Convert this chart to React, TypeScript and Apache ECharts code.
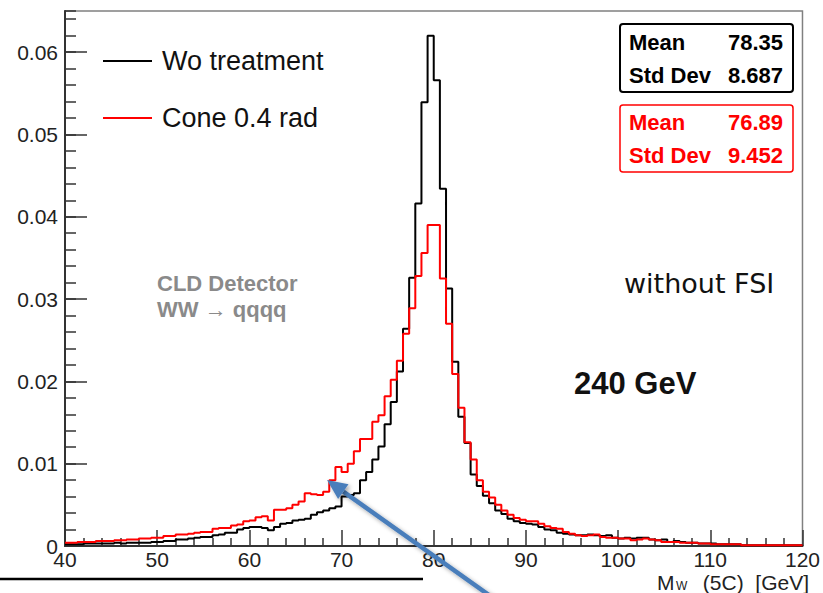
import React, { useEffect, useRef } from "react";
import * as echarts from "echarts";

// Histogram binning: 120 bins from 40 to 120 GeV
const BIN_LOW = 40;
const BIN_HIGH = 120;

const SERIES_NAMES = ["Wo treatment", "Cone 0.4 rad"];

// Normalised M_W (5C) distribution, no treatment
const woTreatment = [
  0.0002, 0.0002, 0.0002, 0.0003, 0.0003, 0.0003, 0.0003, 0.0003, 0.0004, 0.0003,
  0.0004, 0.0004, 0.0004, 0.0004, 0.0005, 0.0005, 0.0006, 0.0006, 0.0008, 0.0008,
  0.0009, 0.0010, 0.0011, 0.0011, 0.0013, 0.0014, 0.0016, 0.0016, 0.0020, 0.0022,
  0.0023, 0.0023, 0.0022, 0.0019, 0.0023, 0.0027, 0.0028, 0.0031, 0.0032, 0.0033,
  0.0038, 0.0041, 0.0043, 0.0046, 0.0048, 0.0060, 0.0062, 0.0064, 0.0080, 0.0090,
  0.0105, 0.0121, 0.0148, 0.0175, 0.0212, 0.0264, 0.0326, 0.0416, 0.0539, 0.0620,
  0.0566, 0.0434, 0.0313, 0.0224, 0.0157, 0.0125, 0.0087, 0.0073, 0.0061, 0.0052,
  0.0043, 0.0039, 0.0033, 0.0030, 0.0028, 0.0027, 0.0026, 0.0023, 0.0020, 0.0019,
  0.0016, 0.0015, 0.0014, 0.0013, 0.0013, 0.0014, 0.0013, 0.0012, 0.0013, 0.0010,
  0.0009, 0.0010, 0.0009, 0.0010, 0.0010, 0.0008, 0.0007, 0.0008, 0.0005, 0.0006,
  0.0005, 0.0004, 0.0004, 0.0003, 0.0003, 0.0003, 0.0002, 0.0002, 0.0002, 0.0002,
  0.0001, 0.0001, 0.0001, 0.0001, 0.0001, 0.0001, 0.0001, 0.0001, 0.0001, 0.0001,
];

// Normalised M_W (5C) distribution, cone of 0.4 rad
const cone04 = [
  0.0004, 0.0004, 0.0005, 0.0005, 0.0005, 0.0006, 0.0006, 0.0006, 0.0007, 0.0007,
  0.0008, 0.0008, 0.0009, 0.0009, 0.0010, 0.0010, 0.0012, 0.0012, 0.0014, 0.0014,
  0.0015, 0.0016, 0.0017, 0.0017, 0.0021, 0.0022, 0.0022, 0.0025, 0.0026, 0.0030,
  0.0031, 0.0035, 0.0036, 0.0031, 0.0044, 0.0044, 0.0046, 0.0050, 0.0054, 0.0064,
  0.0063, 0.0062, 0.0066, 0.0080, 0.0096, 0.0090, 0.0100, 0.0115, 0.0130, 0.0130,
  0.0151, 0.0159, 0.0182, 0.0202, 0.0225, 0.0258, 0.0289, 0.0328, 0.0356, 0.0390,
  0.0390, 0.0325, 0.0270, 0.0209, 0.0168, 0.0126, 0.0105, 0.0080, 0.0066, 0.0059,
  0.0050, 0.0043, 0.0038, 0.0034, 0.0032, 0.0030, 0.0030, 0.0027, 0.0024, 0.0022,
  0.0021, 0.0017, 0.0015, 0.0013, 0.0012, 0.0013, 0.0014, 0.0011, 0.0010, 0.0010,
  0.0009, 0.0009, 0.0007, 0.0008, 0.0009, 0.0008, 0.0007, 0.0005, 0.0005, 0.0005,
  0.0004, 0.0004, 0.0004, 0.0003, 0.0003, 0.0002, 0.0002, 0.0002, 0.0002, 0.0002,
  0.0001, 0.0001, 0.0001, 0.0001, 0.0001, 0.0001, 0.0001, 0.0001, 0.0001, 0.0001,
];

// Statistics boxes
const statsWo = { mean: "78.35", std: "8.687" };
const statsCone = { mean: "76.89", std: "9.452" };

const FONT = "'Liberation Sans', Arial, Helvetica, sans-serif";

// Turn bin contents into step-line points at the bin lower edges
function stepData(values: number[]): number[][] {
  const w = (BIN_HIGH - BIN_LOW) / values.length;
  const pts = values.map((v, i) => [BIN_LOW + i * w, v]);
  pts.push([BIN_HIGH, values[values.length - 1]]);
  return pts;
}

function txt(
  text: string,
  x: number,
  y: number,
  size: number,
  color: string,
  opts: { bold?: boolean; align?: string; family?: string } = {}
) {
  return {
    type: "text",
    x,
    y,
    z: 60,
    style: {
      text,
      fill: color,
      fontSize: size,
      fontFamily: opts.family || FONT,
      fontWeight: opts.bold ? "bold" : "normal",
      align: opts.align || "left",
      verticalAlign: "middle",
    },
  };
}

export default function App() {
  const ref = useRef<HTMLDivElement>(null);

  useEffect(() => {
    if (!ref.current) return;
    const chart = echarts.init(ref.current, undefined, { renderer: "svg" });

    // Arrow pointing at the low-mass tail
    const tip = [327, 480];
    const dir = [0.815, 0.579];
    const headLen = 20;
    const halfW = 9;
    const base = [tip[0] + headLen * dir[0], tip[1] + headLen * dir[1]];
    const perp = [-dir[1], dir[0]];
    const arrowBlue = "#4a7ebb";
    const shadow = {
      shadowColor: "rgba(0,0,0,0.35)",
      shadowBlur: 4,
      shadowOffsetX: 2,
      shadowOffsetY: 2,
    };

    const option: any = {
      animation: false,
      textStyle: { fontFamily: FONT },
      grid: {
        left: 65,
        right: 16,
        top: 11,
        bottom: 47,
        show: true,
        borderColor: "#808080",
        borderWidth: 1.5,
        backgroundColor: "transparent",
      },
      legend: {
        data: SERIES_NAMES,
        orient: "vertical",
        left: 103,
        top: 46,
        padding: 0,
        icon: "rect",
        itemWidth: 49,
        itemHeight: 2,
        itemGap: 27,
        selectedMode: false,
        textStyle: {
          fontSize: 27,
          color: "#111",
          lineHeight: 30,
          padding: [0, 0, 0, 5],
        },
      },
      xAxis: {
        type: "value",
        min: BIN_LOW,
        max: BIN_HIGH,
        interval: 10,
        axisLine: { lineStyle: { color: "#333", width: 2 } },
        axisTick: { inside: true, length: 16, lineStyle: { color: "#333", width: 1.5 } },
        minorTick: { show: true, splitNumber: 5, length: 8, lineStyle: { color: "#333", width: 1.5 } },
        splitLine: { show: false },
        axisLabel: { fontSize: 21, color: "#222", margin: 3 },
      },
      yAxis: [
        {
          type: "value",
          min: 0,
          max: 0.065,
          interval: 0.01,
          axisLine: { show: true, lineStyle: { color: "#333", width: 2 } },
          axisTick: { show: true, inside: true, length: 22, lineStyle: { color: "#333", width: 1.5 } },
          splitLine: { show: false },
          axisLabel: {
            fontSize: 21,
            color: "#222",
            margin: 7,
            showMaxLabel: false,
            formatter: (v: number) => (v === 0 ? "0" : v.toFixed(2)),
          },
        },
        {
          type: "value",
          position: "left",
          min: 0,
          max: 0.065,
          interval: 0.002,
          axisLine: { show: false },
          axisTick: { show: true, inside: true, length: 11, lineStyle: { color: "#333", width: 1.5 } },
          splitLine: { show: false },
          axisLabel: { show: false },
        },
      ],
      series: [
        {
          name: SERIES_NAMES[0],
          type: "line",
          step: "end",
          data: stepData(woTreatment),
          symbol: "none",
          yAxisIndex: 0,
          lineStyle: { color: "#000", width: 2 },
          itemStyle: { color: "#000" },
          z: 3,
        },
        {
          name: SERIES_NAMES[1],
          type: "line",
          step: "end",
          data: stepData(cone04),
          symbol: "none",
          yAxisIndex: 0,
          lineStyle: { color: "#ff0000", width: 2 },
          itemStyle: { color: "#ff0000" },
          z: 4,
        },
      ],
      graphic: [
        // statistics box, no treatment
        {
          type: "rect",
          z: 50,
          shape: { x: 620, y: 24, width: 173, height: 68, r: 3 },
          style: { fill: "#fff", stroke: "#000", lineWidth: 2 },
        },
        txt("Mean", 629, 42.5, 22, "#000", { bold: true }),
        txt(statsWo.mean, 783, 42.5, 22, "#000", { bold: true, align: "right" }),
        txt("Std Dev", 629, 75, 22, "#000", { bold: true }),
        txt(statsWo.std, 783, 75, 22, "#000", { bold: true, align: "right" }),
        // statistics box, cone 0.4 rad
        {
          type: "rect",
          z: 50,
          shape: { x: 620, y: 105, width: 173, height: 67, r: 3 },
          style: { fill: "#fff", stroke: "#ff0000", lineWidth: 1.5 },
        },
        txt("Mean", 629, 122.5, 22, "#ff0000", { bold: true }),
        txt(statsCone.mean, 783, 122.5, 22, "#ff0000", { bold: true, align: "right" }),
        txt("Std Dev", 629, 155, 22, "#ff0000", { bold: true }),
        txt(statsCone.std, 783, 155, 22, "#ff0000", { bold: true, align: "right" }),
        // annotations
        txt("CLD Detector", 157, 283, 22, "#8a8a8a", { bold: true }),
        txt("WW \u2192 qqqq", 157, 309, 22, "#8a8a8a", { bold: true }),
        txt("without FSI", 624, 283, 27, "#111", { family: "'DejaVu Sans', sans-serif" }),
        txt("240 GeV", 574, 383, 31, "#111", { bold: true }),
        // x axis title
        txt("M", 657, 582.5, 21, "#222"),
        txt("W", 676, 585.5, 12, "#222"),
        txt("(5C)  [GeV]", 809, 582.5, 21, "#222", { align: "right" }),
        // rule under the plot
        {
          type: "line",
          z: 60,
          shape: { x1: 0, y1: 579, x2: 423, y2: 579 },
          style: { stroke: "#000", lineWidth: 2.5 },
        },
        // arrow
        {
          type: "line",
          z: 70,
          shape: { x1: base[0], y1: base[1], x2: base[0] + 220 * dir[0], y2: base[1] + 220 * dir[1] },
          style: { stroke: arrowBlue, lineWidth: 4.5, ...shadow },
        },
        {
          type: "polygon",
          z: 70,
          shape: {
            points: [
              tip,
              [base[0] + halfW * perp[0], base[1] + halfW * perp[1]],
              [base[0] - halfW * perp[0], base[1] - halfW * perp[1]],
            ],
          },
          style: { fill: arrowBlue, ...shadow },
        },
      ],
    };

    chart.setOption(option);
    return () => chart.dispose();
  }, []);

  return (
    <div
      ref={ref}
      style={{ position: "absolute", left: 0, top: 0, width: 823, height: 593, background: "#fff" }}
    />
  );
}
